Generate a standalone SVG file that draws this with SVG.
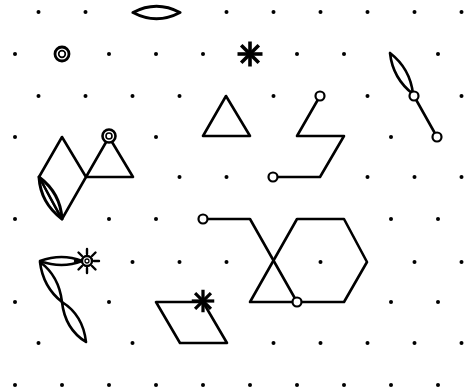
<svg xmlns="http://www.w3.org/2000/svg" width="468" height="392" viewBox="0 0 468 392">
<defs>
<style>
.ln{fill:none;stroke:#000;stroke-width:2.6;stroke-linejoin:round;stroke-linecap:round}
.thk{fill:none;stroke:#000;stroke-width:3;stroke-linejoin:round;stroke-linecap:round}
.oc{fill:#fff;stroke:#000;stroke-width:2.2}
.dt{fill:#000}
.ast{stroke:#000;stroke-width:3.6;stroke-linecap:butt}
</style>
<g id="star">
<line x1="0" y1="-12.5" x2="0" y2="12.5"/><line x1="-12.5" y1="0" x2="12.5" y2="0"/>
<line x1="-8.8" y1="-8.8" x2="8.8" y2="8.8"/><line x1="-8.8" y1="8.8" x2="8.8" y2="-8.8"/>
</g>
</defs>
<rect width="468" height="392" fill="#fff"/>
<g id="grid" class="dt">
<circle cx="38.5" cy="12" r="2"/><circle cx="85.5" cy="12" r="2"/><circle cx="226.5" cy="12" r="2"/><circle cx="273.5" cy="12" r="2"/><circle cx="320.5" cy="12" r="2"/><circle cx="367.5" cy="12" r="2"/><circle cx="414.5" cy="12" r="2"/><circle cx="461.5" cy="12" r="2"/>
<circle cx="15" cy="54" r="2"/><circle cx="109" cy="54" r="2"/><circle cx="156" cy="54" r="2"/><circle cx="203" cy="54" r="2"/><circle cx="297" cy="54" r="2"/><circle cx="344" cy="54" r="2"/><circle cx="438" cy="54" r="2"/>
<circle cx="38.5" cy="96" r="2"/><circle cx="85.5" cy="96" r="2"/><circle cx="132.5" cy="96" r="2"/><circle cx="179.5" cy="96" r="2"/><circle cx="273.5" cy="96" r="2"/><circle cx="367.5" cy="96" r="2"/><circle cx="461.5" cy="96" r="2"/>
<circle cx="15" cy="137" r="2"/><circle cx="156" cy="137" r="2"/><circle cx="391" cy="137" r="2"/>
<circle cx="179.5" cy="177" r="2"/><circle cx="226.5" cy="177" r="2"/><circle cx="367.5" cy="177" r="2"/><circle cx="414.5" cy="177" r="2"/><circle cx="461.5" cy="177" r="2"/>
<circle cx="15" cy="219" r="2"/><circle cx="109" cy="219" r="2"/><circle cx="156" cy="219" r="2"/><circle cx="391" cy="219" r="2"/><circle cx="438" cy="219" r="2"/>
<circle cx="132.5" cy="262" r="2"/><circle cx="179.5" cy="262" r="2"/><circle cx="226.5" cy="262" r="2"/><circle cx="320.5" cy="262" r="2"/><circle cx="414.5" cy="262" r="2"/><circle cx="461.5" cy="262" r="2"/>
<circle cx="15" cy="302" r="2"/><circle cx="109" cy="302" r="2"/><circle cx="391" cy="302" r="2"/><circle cx="438" cy="302" r="2"/>
<circle cx="38.5" cy="343" r="2"/><circle cx="132.5" cy="343" r="2"/><circle cx="273.5" cy="343" r="2"/><circle cx="320.5" cy="343" r="2"/><circle cx="367.5" cy="343" r="2"/><circle cx="414.5" cy="343" r="2"/><circle cx="461.5" cy="343" r="2"/>
<circle cx="15" cy="385" r="2"/><circle cx="62" cy="385" r="2"/><circle cx="109" cy="385" r="2"/><circle cx="156" cy="385" r="2"/><circle cx="203" cy="385" r="2"/><circle cx="250" cy="385" r="2"/><circle cx="297" cy="385" r="2"/><circle cx="344" cy="385" r="2"/><circle cx="391" cy="385" r="2"/><circle cx="438" cy="385" r="2"/>
</g>
<g id="top-lens"><path class="thk" d="M133,12.5 Q156.5,0 180,12.5 Q156.5,25 133,12.5Z"/></g>
<g id="double-ring"><circle cx="62" cy="54" r="7" fill="none" stroke="#000" stroke-width="2.8"/><circle cx="62" cy="54" r="3.3" fill="none" stroke="#000" stroke-width="1.7"/></g>
<g id="asterisk-top" class="ast" transform="translate(250,54)"><use href="#star"/></g>
<g id="triangle"><path class="ln" d="M226,96 L250,136 L203,136 Z"/></g>
<g id="zigzag"><path class="ln" d="M320,96 L297,136 L344,136 L320,177 L273,177"/><circle class="oc" cx="320" cy="96" r="4.5"/><circle class="oc" cx="273" cy="177" r="4.5"/></g>
<g id="leaf-stick"><path class="ln" d="M390,53 Q392.8,78.4 413,94 Q410.2,68.6 390,53Z"/><path class="ln" d="M414,96 L437,137"/><circle class="oc" cx="414" cy="96" r="4.5"/><circle class="oc" cx="437" cy="137" r="4.5"/></g>
<g id="diamond-triangle">
<path class="ln" d="M62,137 L86,177 L62,219 L39,177 Z"/>
<path class="ln" d="M86,177 L109,137 L133,177 Z"/>
<path class="thk" d="M39,177 Q40.5,203 62,219 Q60.5,193 39,177Z"/>
<path fill="none" stroke="#000" stroke-width="2" d="M40,178 Q50,198 61,218"/>
<circle cx="109" cy="136" r="6.5" fill="#fff" stroke="#000" stroke-width="2.6"/><circle cx="109" cy="136" r="3" fill="none" stroke="#000" stroke-width="1.6"/>
</g>
<g id="sun-leaves">
<path class="ln" d="M40,261 Q62,253 82,261 Q62,269 40,261Z"/>
<path class="ln" d="M40,262 Q43,287 62,302 Q59,276 40,262Z"/>
<path class="ln" d="M62,302 Q65,329 86,342 Q83,315 62,302Z"/>
<g stroke="#000" stroke-width="2.4" stroke-linecap="round" transform="translate(87,261)">
<line x1="0" y1="-7" x2="0" y2="-12"/><line x1="0" y1="7" x2="0" y2="12"/><line x1="7" y1="0" x2="12" y2="0"/><line x1="-7" y1="0" x2="-12" y2="0"/>
<line x1="5" y1="5" x2="8.5" y2="8.5"/><line x1="-5" y1="5" x2="-8.5" y2="8.5"/><line x1="5" y1="-5" x2="8.5" y2="-8.5"/><line x1="-5" y1="-5" x2="-8.5" y2="-8.5"/>
</g>
<circle cx="87" cy="261" r="5" fill="#fff" stroke="#000" stroke-width="2.4"/><circle cx="87" cy="261" r="2" fill="none" stroke="#000" stroke-width="1.3"/>
</g>
<g id="parallelogram"><path class="ln" d="M156,302 L203,302 L227,343 L180,343 Z"/><g class="ast" transform="translate(203,301) scale(0.9)"><use href="#star"/></g></g>
<g id="hexagon">
<path class="ln" d="M203,219 L250,219 L297,302"/>
<path class="ln" d="M297,219 L250,302 L344,302 L367,262 L344,219 Z"/>
<circle class="oc" cx="203" cy="219" r="4.5"/><circle class="oc" cx="297" cy="302" r="4.5"/>
</g>
</svg>
